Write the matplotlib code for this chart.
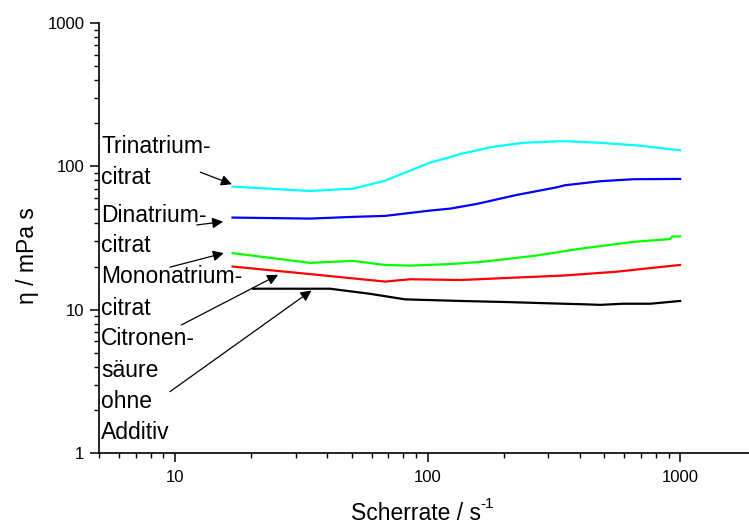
"""
Viscosity vs. shear rate for citrate additives (log-log), with labelled arrows.
"""

import matplotlib
matplotlib.use('Agg')
import matplotlib.pyplot as plt
from matplotlib.ticker import LogLocator, FixedLocator, NullFormatter

plt.rcParams['font.family'] = ['Liberation Sans', 'DejaVu Sans']

# Data (shear rate in 1/s, viscosity in mPa s)
tri_x = [16.9, 34.3, 50.8, 67.9, 85.3, 102, 123, 135, 182, 240, 345, 482, 674, 1000]
tri_y = [72.2, 67.3, 69.9, 79.4, 93.3, 106, 116, 122, 137, 146, 150, 146, 140, 129.5]

di_x = [16.9, 34.3, 50.8, 67.9, 102, 123, 157, 225, 325, 350, 482, 653, 1000]
di_y = [43.9, 43.2, 44.4, 45.1, 49.1, 50.7, 54.7, 63.1, 71.4, 73.8, 78.7, 81.3, 81.7]

mono_x = [16.9, 34.3, 50.8, 67.9, 85.3, 123, 166, 262, 414, 653, 912, 930, 1000]
mono_y = [24.8, 21.2, 21.9, 20.5, 20.3, 20.8, 21.6, 23.7, 26.8, 29.7, 31.1, 32.3, 32.5]

cit_x = [16.9, 34.3, 67.9, 85.3, 135, 200, 345, 561, 761, 1000]
cit_y = [20.0, 17.7, 15.7, 16.3, 16.1, 16.6, 17.3, 18.4, 19.5, 20.5]

ohne_x = [20.4, 41.1, 59.2, 81.5, 135, 206, 345, 420, 482, 596, 761, 1000]
ohne_y = [14.0, 14.0, 12.9, 11.8, 11.5, 11.3, 11.0, 10.9, 10.8, 11.0, 11.0, 11.5]

series = [
    (tri_x, tri_y, '#00FFFF'),
    (di_x, di_y, '#0000FF'),
    (mono_x, mono_y, '#00FF00'),
    (cit_x, cit_y, '#FF0000'),
    (ohne_x, ohne_y, '#000000'),
]

# Label text lines and their baselines (figure pixels from top)
label_lines = ['Trinatrium-', 'citrat', 'Dinatrium-', 'citrat', 'Mononatrium-',
               'citrat', 'Citronen-', 'säure', 'ohne', 'Additiv']
label_baselines = [152.7, 184.3, 221.7, 252.3, 283.3, 315, 345, 376.7, 407.7, 439]

# Arrows: (tail, head) in data coordinates
arrows = [
    ((12.6, 91), (16.8, 75)),
    ((12.2, 39), (15.5, 41.1)),
    ((9.55, 19.8), (15.6, 24.8)),
    ((10.6, 7.82), (25.6, 17.5)),
    ((9.55, 2.68), (34.7, 13.6)),
]

W, H = 749, 527
fig = plt.figure(figsize=(W / 100, H / 100), dpi=100)
ax = fig.add_axes([99 / W, 1 - 453 / H, 1 - 99 / W, (453 - 23) / H])

for x, y, c in series:
    ax.plot(x, y, color=c, lw=1.6, solid_joinstyle='round')

ax.set_xscale('log')
ax.set_yscale('log')
ax.set_xlim(5, 1875)
ax.set_ylim(1, 1000)

ax.xaxis.set_major_locator(FixedLocator([10, 100, 1000]))
ax.xaxis.set_minor_locator(LogLocator(base=10, subs=range(2, 10), numticks=20))
ax.xaxis.set_minor_formatter(NullFormatter())
ax.set_xticklabels(['10', '100', '1000'])
ax.yaxis.set_major_locator(FixedLocator([1, 10, 100, 1000]))
ax.yaxis.set_minor_locator(LogLocator(base=10, subs=range(2, 10), numticks=20))
ax.yaxis.set_minor_formatter(NullFormatter())
ax.set_yticklabels(['1', '10', '100', '1000'])

for side in ['top', 'right']:
    ax.spines[side].set_visible(False)
for side in ['left', 'bottom']:
    ax.spines[side].set_linewidth(1.2)

ax.tick_params(which='major', direction='out', length=6.5, width=1.1, labelsize=12)
ax.tick_params(axis='x', which='major', pad=6)
ax.tick_params(axis='y', which='major', pad=4)
ax.tick_params(which='minor', direction='out', length=3.5, width=1.0)

ax.set_xlabel('Scherrate / s', fontsize=16.5, labelpad=12, x=0.488)
ax.set_ylabel('η / mPa s', fontsize=16.5, labelpad=6, y=0.46)
# small superscript "-1" right after the x label
fig.canvas.draw()
bb = ax.xaxis.label.get_window_extent()
fig.text((bb.x1 - 1) / W, (bb.y0 + 17) / H, '-1', fontsize=11,
         ha='left', va='baseline')

for txt, base in zip(label_lines, label_baselines):
    fig.text(101 / W, 1 - base / H, txt, ha='left', va='baseline', fontsize=16.5)

for tail, head in arrows:
    ax.annotate('', xy=head, xytext=tail,
                arrowprops=dict(arrowstyle='-|>', color='black', lw=0.9,
                                mutation_scale=16, shrinkA=0, shrinkB=0))

fig.savefig('out.png', dpi=100, facecolor='white')
